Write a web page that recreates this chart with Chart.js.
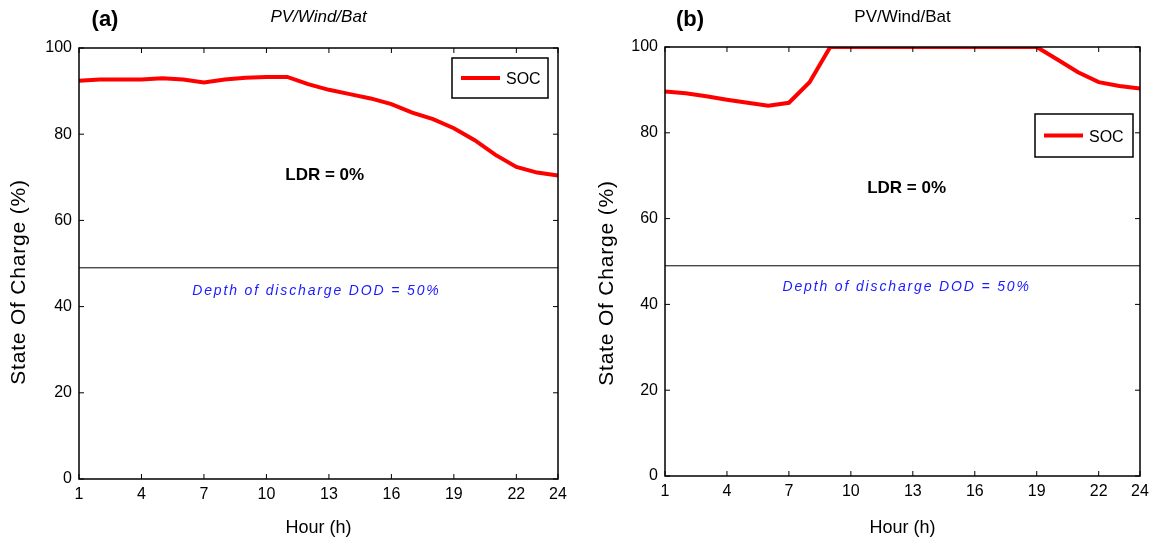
<!DOCTYPE html>
<html>
<head>
<meta charset="utf-8">
<script src="https://cdn.jsdelivr.net/npm/chart.js@4.4.0/dist/chart.umd.min.js"></script>
<style>
  body { margin: 0; background: #fff; }
  .wrap { display: flex; width: 1156px; height: 545px; }
  .panel { position: relative; width: 578px; height: 545px; }
</style>
</head>
<body>
<div class="wrap">
  <div class="panel"><canvas id="chartA"></canvas></div>
  <div class="panel"><canvas id="chartB"></canvas></div>
</div>
<script>
// data
const hours = [1,2,3,4,5,6,7,8,9,10,11,12,13,14,15,16,17,18,19,20,21,22,23,24];
const socA = [92.4,92.7,92.7,92.7,93.0,92.7,92.0,92.7,93.1,93.3,93.3,91.6,90.3,89.3,88.3,87.0,85.0,83.5,81.4,78.6,75.2,72.4,71.1,70.4];
const socB = [89.6,89.2,88.5,87.7,87.0,86.3,87.0,91.8,100,100,100,100,100,100,100,100,100,100,100,97.1,94.1,91.8,90.9,90.3];
const dodLevel = 49;
const xTicks = [1,4,7,10,13,16,19,22,24];
const yTicks = [0,20,40,60,80,100];

const FONT = "'Liberation Sans', Arial, sans-serif";

const panelPlugin = {
  id: 'panel',
  afterDraw(chart, args, opts) {
    const {ctx, chartArea: a, scales} = chart;
    const x = scales.x, y = scales.y;
    ctx.save();
    // box + inward ticks (matlab style)
    ctx.strokeStyle = '#000';
    ctx.lineWidth = 1.5;
    ctx.strokeRect(a.left, a.top, a.right - a.left, a.bottom - a.top);
    ctx.lineWidth = 1;
    ctx.beginPath();
    xTicks.forEach(v => {
      const px = x.getPixelForValue(v);
      ctx.moveTo(px, a.bottom); ctx.lineTo(px, a.bottom - 5);
      ctx.moveTo(px, a.top); ctx.lineTo(px, a.top + 5);
    });
    yTicks.forEach(v => {
      const py = y.getPixelForValue(v);
      ctx.moveTo(a.left, py); ctx.lineTo(a.left + 5, py);
      ctx.moveTo(a.right, py); ctx.lineTo(a.right - 5, py);
    });
    ctx.stroke();

    // panel letter and title
    ctx.fillStyle = '#000';
    ctx.textAlign = 'center';
    ctx.textBaseline = 'middle';
    ctx.font = 'bold 22px ' + FONT;
    ctx.fillText(opts.letter, opts.letterX, 20);
    ctx.font = (opts.titleItalic ? 'italic ' : '') + '17px ' + FONT;
    ctx.fillText('PV/Wind/Bat', (a.left + a.right) / 2, 17);

    // y axis title
    ctx.save();
    ctx.translate(opts.yTitle[0], opts.yTitle[1]);
    ctx.rotate(-Math.PI / 2);
    ctx.font = '21px ' + FONT;
    ctx.letterSpacing = '0.8px';
    ctx.fillText('State Of Charge (%)', 0, 0);
    ctx.restore();

    // annotations
    ctx.font = 'bold 17px ' + FONT;
    ctx.fillText('LDR = 0%', x.getPixelForValue(opts.ldr[0]), y.getPixelForValue(opts.ldr[1]));
    ctx.fillStyle = '#1a1aff';
    ctx.font = 'italic 14px ' + FONT;
    ctx.letterSpacing = '1.85px';
    ctx.fillText('Depth of discharge DOD = 50%', x.getPixelForValue(opts.dod[0]), y.getPixelForValue(opts.dod[1]));
    ctx.letterSpacing = '0px';

    // legend box
    const lg = opts.legend;
    ctx.fillStyle = '#fff';
    ctx.fillRect(lg.x, lg.y, lg.w, lg.h);
    ctx.strokeStyle = '#000';
    ctx.lineWidth = 1.5;
    ctx.strokeRect(lg.x, lg.y, lg.w, lg.h);
    ctx.strokeStyle = '#ff0000';
    ctx.lineWidth = 4;
    ctx.beginPath();
    ctx.moveTo(lg.x + 9, lg.y + lg.h / 2);
    ctx.lineTo(lg.x + 48, lg.y + lg.h / 2);
    ctx.stroke();
    ctx.fillStyle = '#000';
    ctx.textAlign = 'left';
    ctx.font = '16px ' + FONT;
    ctx.fillText('SOC', lg.x + 54, lg.y + lg.h / 2 + 2);
    ctx.restore();
  }
};

function makeChart(id, soc, box, opts) {
  return new Chart(document.getElementById(id), {
    type: 'line',
    data: {
      datasets: [
        {
          label: 'SOC',
          data: hours.map((h, i) => ({x: h, y: soc[i]})),
          borderColor: '#ff0000',
          borderWidth: 4,
          pointRadius: 0,
          tension: 0,
          fill: false
        },
        {
          label: 'DOD',
          data: [{x: hours[0], y: dodLevel}, {x: hours[hours.length - 1], y: dodLevel}],
          borderColor: '#000',
          borderWidth: 1,
          pointRadius: 0,
          fill: false
        }
      ]
    },
    options: {
      responsive: true,
      maintainAspectRatio: false,
      animation: false,
      layout: { padding: { left: 0, right: box.right, top: box.top, bottom: 0 } },
      scales: {
        x: {
          type: 'linear',
          min: 1,
          max: 24,
          grid: { display: false, drawTicks: false },
          border: { display: false },
          afterBuildTicks: s => { s.ticks = xTicks.map(v => ({value: v})); },
          afterFit: s => { s.height = box.xh; },
          ticks: { color: '#000', font: { family: FONT, size: 16 }, padding: 6, maxRotation: 0, autoSkip: false },
          title: { display: true, text: 'Hour (h)', color: '#000', font: { family: FONT, size: 18 }, padding: { top: 0, bottom: 6 } }
        },
        y: {
          min: 0,
          max: 100,
          grid: { display: false, drawTicks: false },
          border: { display: false },
          afterBuildTicks: s => { s.ticks = yTicks.map(v => ({value: v})); },
          afterFit: s => { s.width = box.yw; },
          ticks: { color: '#000', font: { family: FONT, size: 16 }, padding: 7 },
          title: { display: false }
        }
      },
      plugins: {
        legend: { display: false },
        tooltip: { enabled: false },
        panel: opts
      }
    },
    plugins: [panelPlugin]
  });
}

makeChart('chartA', socA, { right: 20, top: 48, xh: 66, yw: 79 }, {
  letter: '(a)', letterX: 105, titleItalic: true, yTitle: [19, 282],
  ldr: [12.8, 70.5], dod: [12.4, 43.6],
  legend: { x: 452, y: 58, w: 96, h: 40 }
});
makeChart('chartB', socB, { right: 16, top: 47, xh: 69, yw: 87 }, {
  letter: '(b)', letterX: 112, titleItalic: false, yTitle: [29, 283],
  ldr: [12.7, 67.1], dod: [12.7, 44.1],
  legend: { x: 457, y: 114, w: 98, h: 43 }
});
</script>
</body>
</html>
